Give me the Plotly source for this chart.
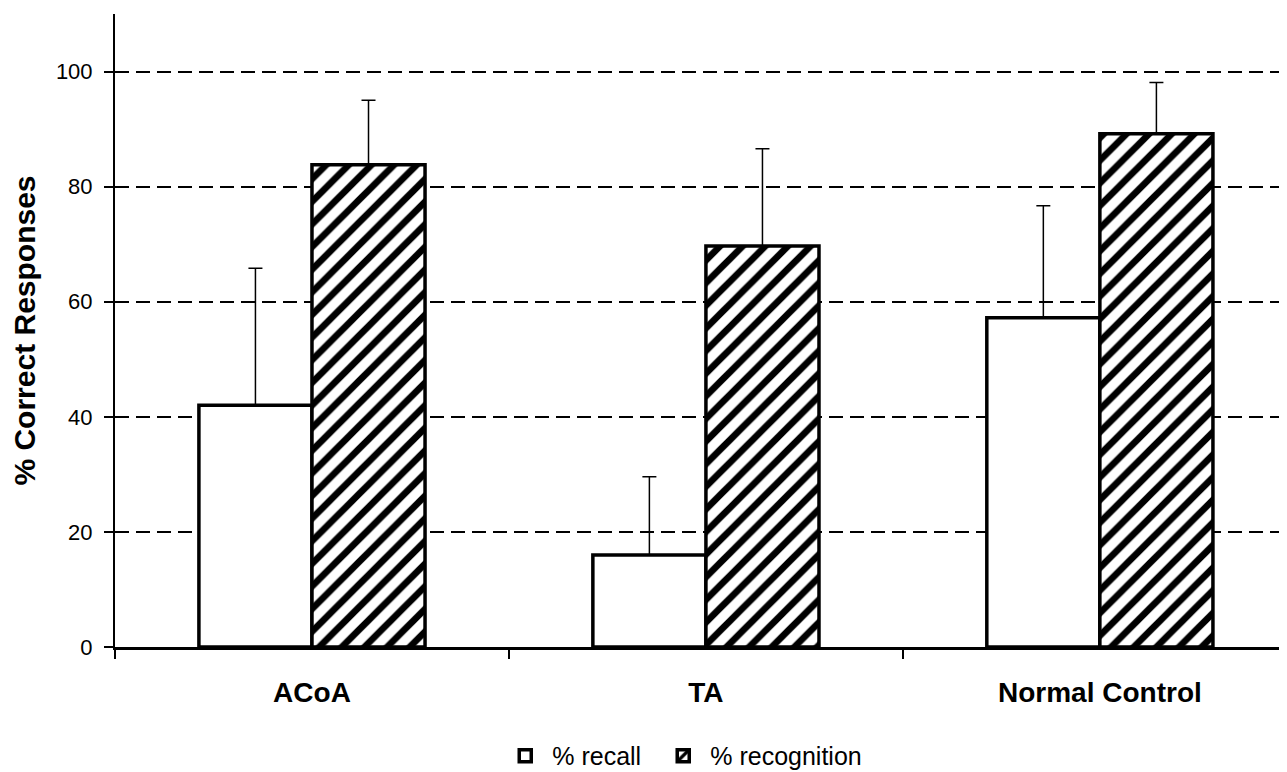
import plotly.graph_objects as go

categories = ["ACoA", "TA", "Normal Control"]
recall = [42, 16, 57.2]
recall_err = [23.8, 13.6, 19.5]
recognition = [83.8, 69.7, 89.2]
recognition_err = [11.2, 16.9, 8.9]
y_ticks = [0, 20, 40, 60, 80, 100]

FONT = "Liberation Sans, Arial, sans-serif"

fig = go.Figure()
fig.add_trace(go.Bar(
    name="% recall", x=categories, y=recall, legend="legend",
    marker=dict(color="white", line=dict(color="black", width=3.5)),
    error_y=dict(type="data", array=recall_err, arrayminus=[0]*3, symmetric=False,
                 color="black", thickness=1.5, width=7),
))
fig.add_trace(go.Bar(
    name="% recognition", x=categories, y=recognition, legend="legend2",
    marker=dict(color="white", line=dict(color="black", width=3.5),
                pattern=dict(shape="/", fgcolor="black", bgcolor="white",
                             size=16, solidity=0.42, fillmode="replace")),
    error_y=dict(type="data", array=recognition_err, arrayminus=[0]*3, symmetric=False,
                 color="black", thickness=1.5, width=7),
))

legend_common = dict(orientation="h", xanchor="left", y=-0.172, yanchor="middle",
                     font=dict(size=25, family=FONT), itemwidth=44)

fig.update_layout(
    width=1279, height=764,
    margin=dict(l=107, r=0, t=6, b=125, autoexpand=False),
    plot_bgcolor="white", paper_bgcolor="white",
    barmode="group", bargap=0.426, bargroupgap=0.0,
    font=dict(family=FONT, color="black", size=22),
    legend=dict(x=0.327, **legend_common),
    legend2=dict(x=0.4618, **legend_common),
    showlegend=True,
)
fig.update_xaxes(
    range=[-0.5, 2.475], automargin=False,
    showline=True, linecolor="black", linewidth=3,
    ticks="outside", tickson="boundaries", ticklen=9, tickcolor="black", tickwidth=1.5,
    tickfont=dict(size=28, family=FONT, weight="bold"),
    ticklabelstandoff=18,
    showgrid=False,
)
fig.update_yaxes(
    range=[0, 110], automargin=False,
    tickvals=y_ticks,
    showline=True, linecolor="black", linewidth=2,
    ticks="outside", ticklen=9, tickcolor="black", tickwidth=2,
    tickfont=dict(size=22, family=FONT),
    ticklabelstandoff=7,
    showgrid=True, gridcolor="black", gridwidth=2, griddash="14px,7px",
    zeroline=False,
    title=dict(text="% Correct Responses", font=dict(size=30, family=FONT, weight="bold"), standoff=11),
)

fig.write_html("out.html")
